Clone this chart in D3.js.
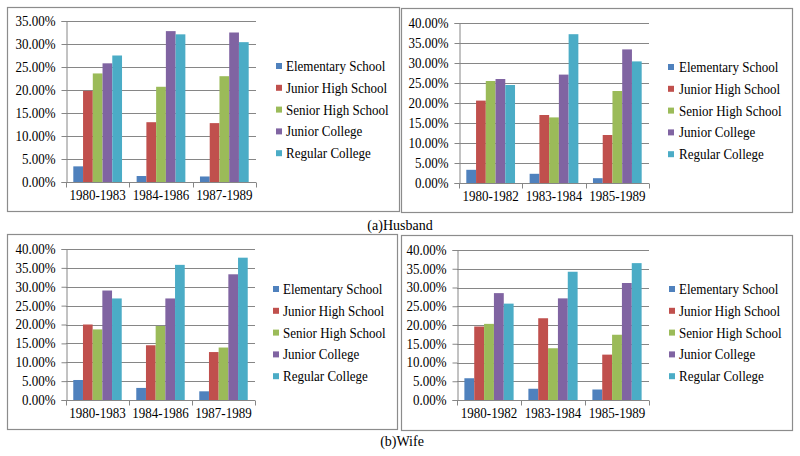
<!DOCTYPE html>
<html><head><meta charset="utf-8">
<script src="https://cdn.jsdelivr.net/npm/d3@7"></script>
<style>body{margin:0;background:#fff}svg{display:block}</style>
</head><body><svg id="c" width="800" height="456"></svg>
<script>
const seriesNames = ["Elementary School","Junior High School","Senior High School","Junior College","Regular College"];
const seriesColors = ["#4F81BD","#C0504D","#9BBB59","#8064A2","#4BACC6"];
const catsA = ["1980-1983","1984-1986","1987-1989"];
const catsB = ["1980-1982","1983-1984","1985-1989"];
// values in percent, per category, per series
const husbandA = [[3.4,19.8,23.6,25.8,27.5],[1.3,13.0,20.7,32.8,32.1],[1.2,12.8,23.0,32.5,30.4]];
const husbandB = [[3.3,20.6,25.5,26.0,24.5],[2.3,17.0,16.4,27.1,37.2],[1.2,12.0,23.0,33.4,30.4]];
const wifeA = [[5.3,20.0,18.7,29.0,26.9],[3.2,14.5,19.6,26.9,35.8],[2.3,12.7,13.9,33.3,37.7]];
const wifeB = [[5.8,19.6,20.3,28.5,25.7],[3.0,21.8,13.8,27.1,34.2],[2.8,12.1,17.4,31.2,36.5]];
const ticks35 = [0,5,10,15,20,25,30,35];
const ticks40 = [0,5,10,15,20,25,30,35,40];
const captions = ["(a)Husband","(b)Wife"];

const FONT = "Liberation Serif";
const svg = d3.select("#c");
const panels = [
  {box:[7,7,399,211], plot:[66,256,21,182], cats:catsA, vals:husbandA, ticks:ticks35, leg:[276,286,66]},
  {box:[401,8,792,212], plot:[459,649,23,183], cats:catsB, vals:husbandB, ticks:ticks40, leg:[668,679,67]},
  {box:[7,234,397,429], plot:[66,255,249,400], cats:catsA, vals:wifeA, ticks:ticks40, leg:[273,283,289]},
  {box:[401,235,792,430], plot:[457,649,250,400], cats:catsB, vals:wifeB, ticks:ticks40, leg:[669,679,289]}
];
const gridColor = "#868686";
const small = [];
panels.forEach(p=>{
  const g = svg.append("g");
  g.append("rect").attr("x",p.box[0]+0.5).attr("y",p.box[1]+0.5)
    .attr("width",p.box[2]-p.box[0]).attr("height",p.box[3]-p.box[1])
    .attr("fill","none").attr("stroke","#8c8c8c").attr("stroke-width",1.2);
  const [x0,x1,yT,yB] = p.plot;
  const y = d3.scaleLinear().domain([0,d3.max(p.ticks)]).range([yB,yT]);
  const x = d3.scaleBand().domain(p.cats).range([x0,x1]).paddingInner(0).paddingOuter(0);
  const xs = d3.scaleBand().domain(seriesNames).range([0,x.bandwidth()]).paddingOuter(0.75).paddingInner(0);
  g.append("g").selectAll("line").data(p.ticks.filter(t=>t>0)).join("line")
    .attr("x1",x0).attr("x2",x1).attr("y1",d=>Math.round(y(d))+0.5).attr("y2",d=>Math.round(y(d))+0.5)
    .attr("stroke",gridColor).attr("stroke-width",1);
  p.cats.forEach((c,ci)=>{
    g.append("g").selectAll("rect").data(p.vals[ci]).join("rect")
      .attr("x",(d,i)=>x(c)+xs(seriesNames[i])).attr("width",xs.bandwidth())
      .attr("y",d=>y(d)).attr("height",d=>yB-y(d))
      .attr("fill",(d,i)=>seriesColors[i]);
  });
  const ya = g.append("g").attr("transform",`translate(${x0+0.5},0)`)
    .call(d3.axisLeft(y).tickValues(p.ticks).tickFormat(d=>d.toFixed(2)+"%").tickSize(5).tickPadding(6));
  ya.attr("font-family",FONT).attr("font-size",14);
  ya.selectAll("path,line").attr("stroke",gridColor);
  ya.selectAll("text").attr("fill","#000").attr("font-family",FONT).attr("font-size",14).each(function(){small.push(this);});
  const xa = g.append("g").attr("transform",`translate(0,${Math.round(yB)+0.5})`)
    .call(d3.axisBottom(x).tickSize(0).tickPadding(8));
  xa.attr("font-family",FONT).attr("font-size",14);
  xa.selectAll("path").attr("stroke",gridColor).attr("d",`M${x0},0H${x1}`);
  xa.selectAll("text").attr("fill","#000").attr("font-family",FONT).attr("font-size",14).each(function(){small.push(this);});
  const bounds = p.cats.map(c=>x(c)).concat([x1]);
  xa.append("g").selectAll("line").data(bounds).join("line")
    .attr("x1",d=>Math.round(d)+0.5).attr("x2",d=>Math.round(d)+0.5).attr("y1",0).attr("y2",5)
    .attr("stroke",gridColor);
  const lg = g.append("g");
  seriesNames.forEach((s,i)=>{
    const cy = p.leg[2] + i*21.8;
    lg.append("rect").attr("x",p.leg[0]).attr("y",cy-3).attr("width",6).attr("height",6).attr("fill",seriesColors[i]);
    const t = lg.append("text").attr("x",p.leg[1]).attr("y",cy).attr("dy","0.35em").attr("font-family",FONT).attr("font-size",14).text(s);
    small.push(t.node());
  });
});
// 14px keeps the serif face; compress these labels horizontally to a 13px width
small.forEach(n=>{
  const w = n.getComputedTextLength();
  n.setAttribute("textLength", (w*13/14).toFixed(2));
  n.setAttribute("lengthAdjust","spacingAndGlyphs");
});
svg.append("text").attr("x",400).attr("y",225).attr("dy","0.35em").attr("text-anchor","middle").attr("font-family",FONT).attr("font-size",14).text(captions[0]);
svg.append("text").attr("x",402).attr("y",441).attr("dy","0.35em").attr("text-anchor","middle").attr("font-family",FONT).attr("font-size",14).text(captions[1]);
</script></body></html>
